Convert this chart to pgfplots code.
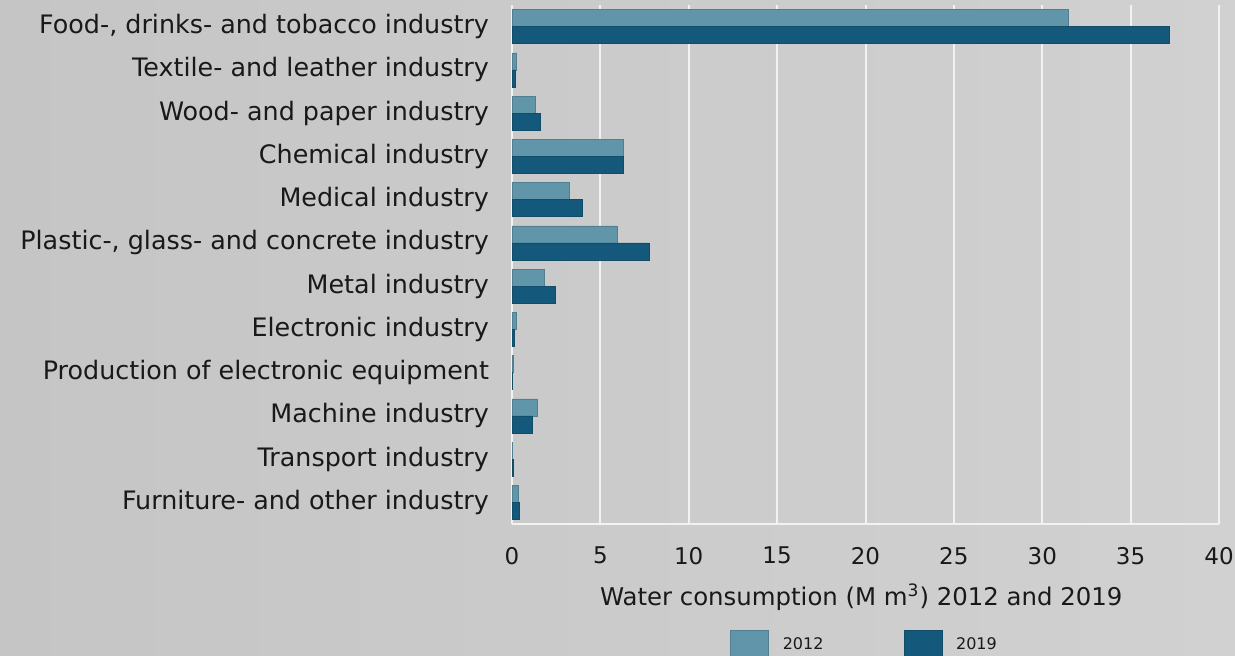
\documentclass[border=0pt]{standalone}
\usepackage{pgfplots}
\pgfplotsset{compat=1.18}
\usepackage{fontspec}
\setmainfont{DejaVu Sans}
\definecolor{c12}{RGB}{96,149,170}
\definecolor{c19}{RGB}{20,89,123}
\definecolor{bgl}{RGB}{197,197,197}
\definecolor{bgr}{RGB}{209,209,209}
\definecolor{gridc}{RGB}{242,242,242}
\begin{document}
\begin{tikzpicture}
\useasboundingbox (0pt,0pt) rectangle (617.5pt,327.5pt);
\clip (0pt,0pt) rectangle (617.5pt,327.5pt);
\shade[left color=bgl, right color=bgr] (0pt,0pt) rectangle (617.5pt,327.5pt);
\begin{axis}[
  at={(256pt,65.5pt)}, anchor=south west,
  scale only axis, width=353.5pt, height=259.5pt,
  xbar=0pt, bar width=8.5pt,
  xmin=0, xmax=40, ymin=-0.5, ymax=11.5, y dir=reverse,
  ytick={0,...,11},
  yticklabels={Food-{,} drinks- and tobacco industry, Textile- and leather industry, Wood- and paper industry, Chemical industry, Medical industry, Plastic-{,} glass- and concrete industry, Metal industry, Electronic industry, Production of electronic equipment, Machine industry, Transport industry, Furniture- and other industry},
  xtick={0,5,...,40},
  major tick length=0pt,
  axis x line*=bottom, axis y line*=left,
  axis line style={draw=gridc, line width=1.4pt, -},
  xmajorgrids, major grid style={draw=gridc, line width=1pt},
  /pgf/number format/assume math mode=true,
  xticklabel style={font=\fontsize{11.5}{13}\selectfont, yshift=-8pt, text=black!90},
  yticklabel style={font=\fontsize{12.7}{15}\selectfont, xshift=-8pt, text=black!90},
  xlabel={Water consumption (M m\textsuperscript{3}) 2012 and 2019},
  xlabel style={at={(axis description cs:0.494,0)}, anchor=center, yshift=-36.5pt, font=\fontsize{12.2}{15}\selectfont, text=black!90},
  legend style={at={(axis description cs:0.5,-0.233)}, anchor=center, draw=none, fill=none, legend columns=2, font=\fontsize{8}{9}\selectfont, text=black!90,
    /tikz/every odd column/.append style={column sep=5pt},
    /tikz/every even column/.append style={column sep=38pt}},
  legend image code/.code={\draw[#1] (0pt,-7.5pt) rectangle (19pt,7.5pt);},
]
\addplot[fill=c12, draw=c12!85!black, line width=0.3pt, bar shift=4.25pt] coordinates {(31.45,0) (0.27,1) (1.34,2) (6.3,3) (3.24,4) (5.96,5) (1.83,6) (0.23,7) (0.1,8) (1.43,9) (0.03,10) (0.34,11)};
\addplot[fill=c19, draw=c19!85!black, line width=0.3pt, bar shift=-4.25pt] coordinates {(37.2,0) (0.2,1) (1.62,2) (6.3,3) (4.0,4) (7.79,5) (2.43,6) (0.13,7) (0.02,8) (1.13,9) (0.1,10) (0.4,11)};
\legend{2012,2019}
\end{axis}
\end{tikzpicture}
\end{document}
